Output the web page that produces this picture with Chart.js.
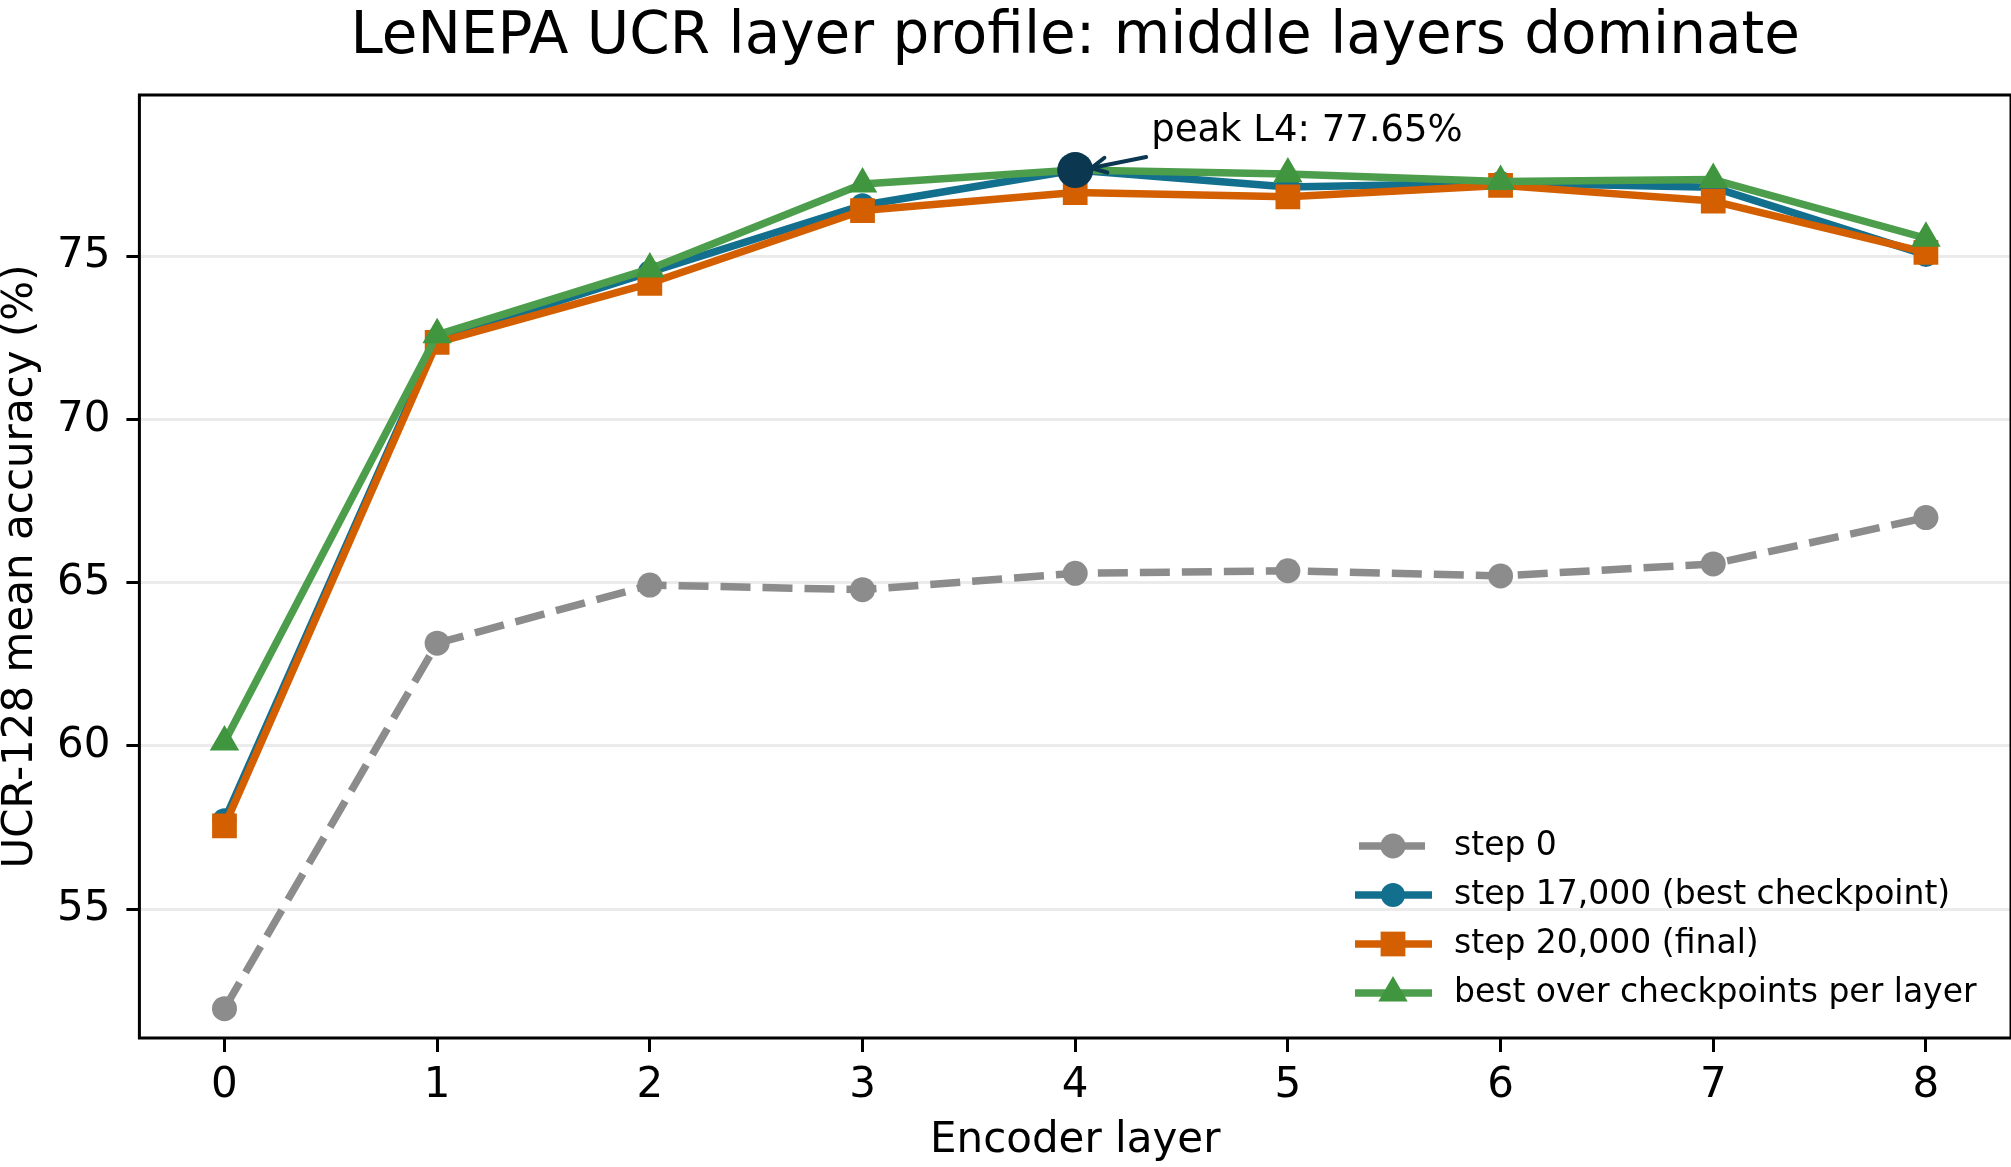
<!DOCTYPE html>
<html>
<head>
<meta charset="utf-8">
<script src="https://cdn.jsdelivr.net/npm/chart.js@4.4.1/dist/chart.umd.min.js"></script>
<style>
  html, body { margin: 0; padding: 0; background: #fff; overflow: hidden; }
  #wrap { width: 2011px; height: 1167px; position: relative; }
</style>
</head>
<body>
<div id="wrap"><canvas id="c"></canvas></div>
<script>
// ---- data ----
const layers = [0, 1, 2, 3, 4, 5, 6, 7, 8];
const step0 = [51.95, 63.15, 64.93, 64.79, 65.29, 65.37, 65.21, 65.58, 67.00];
const step17k = [57.72, 72.45, 74.52, 76.57, 77.65, 77.13, 77.25, 77.12, 75.05];
const step20k = [57.55, 72.37, 74.18, 76.41, 76.96, 76.83, 77.18, 76.70, 75.13];
const bestPerLayer = [60.12, 72.60, 74.62, 77.22, 77.65, 77.53, 77.30, 77.36, 75.56];
const yTicks = [55, 60, 65, 70, 75];
const xTicks = [0, 1, 2, 3, 4, 5, 6, 7, 8];

const peakIdx = step17k.indexOf(Math.max(...step17k));
const peakLayer = layers[peakIdx];
const peakValue = step17k[peakIdx];
const peakText = 'peak L' + peakLayer + ': ' + peakValue.toFixed(2) + '%';

const pts = arr => layers.map((l, i) => ({ x: l, y: arr[i] }));

Chart.defaults.font.family = "'DejaVu Sans', sans-serif";
Chart.defaults.color = '#000';

const FONT = "'DejaVu Sans', sans-serif";

const spinesPlugin = {
  id: 'spines',
  afterDatasetsDraw(chart) {
    const { ctx, chartArea: a } = chart;
    ctx.save();
    ctx.strokeStyle = '#000';
    ctx.lineWidth = 3;
    ctx.strokeRect(a.left, a.top, a.right - a.left, a.bottom - a.top);
    ctx.restore();
  }
};

const annotPlugin = {
  id: 'annot',
  afterDatasetsDraw(chart) {
    const { ctx } = chart;
    const px = chart.scales.x.getPixelForValue(peakLayer);
    const py = chart.scales.y.getPixelForValue(peakValue);
    const tail = { x: px + 71, y: py - 13 };
    const tip = { x: px + 16, y: py - 2 };
    const col = '#0b3850';
    ctx.save();
    ctx.strokeStyle = col;
    ctx.lineWidth = 4;
    ctx.lineCap = 'round';
    ctx.beginPath();
    ctx.moveTo(tail.x, tail.y);
    ctx.lineTo(tip.x, tip.y);
    ctx.stroke();
    const ang = Math.atan2(tail.y - tip.y, tail.x - tip.x);
    const hl = 15, hw = 7.5;
    const bx = tip.x + Math.cos(ang) * hl, by = tip.y + Math.sin(ang) * hl;
    const nx = -Math.sin(ang) * hw, ny = Math.cos(ang) * hw;
    ctx.beginPath();
    ctx.moveTo(bx + nx, by + ny);
    ctx.lineTo(tip.x, tip.y);
    ctx.lineTo(bx - nx, by - ny);
    ctx.stroke();
    ctx.fillStyle = '#000';
    ctx.font = '37px ' + FONT;
    ctx.textAlign = 'left';
    ctx.textBaseline = 'alphabetic';
    ctx.fillText(peakText, px + 76, py - 29);
    ctx.restore();
  }
};

const legendPlugin = {
  id: 'customLegend',
  afterDraw(chart) {
    const { ctx, chartArea: a } = chart;
    const entries = chart.data.datasets.filter(d => d.inLegend);
    const textX = a.right - 557;
    const rowYs = [a.bottom - 192, a.bottom - 143, a.bottom - 94, a.bottom - 45];
    ctx.save();
    entries.forEach((d, i) => {
      const y = rowYs[i];
      ctx.strokeStyle = d.borderColor;
      ctx.lineWidth = d.borderWidth;
      ctx.setLineDash([]);
      ctx.beginPath();
      if (d.borderDash && d.borderDash.length) {
        ctx.moveTo(textX - 95, y);
        ctx.lineTo(textX - 29, y);
      } else {
        ctx.moveTo(textX - 99, y);
        ctx.lineTo(textX - 22, y);
      }
      ctx.stroke();
      ctx.fillStyle = d.pointBackgroundColor;
      Chart.helpers.drawPoint(ctx, {
        pointStyle: d.pointStyle,
        radius: d.pointRadius,
        rotation: 0,
        borderWidth: 0
      }, textX - 61, y);
      ctx.fillStyle = '#000';
      ctx.font = '33px ' + FONT;
      ctx.textAlign = 'left';
      ctx.textBaseline = 'middle';
      ctx.fillText(d.label, textX, y);
    });
    ctx.restore();
  }
};

new Chart(document.getElementById('c'), {
  type: 'line',
  data: {
    datasets: [
      {
        label: 'step 0', inLegend: true,
        data: pts(step0),
        borderColor: '#8c8c8c', backgroundColor: '#8c8c8c', pointBackgroundColor: '#8c8c8c',
        borderWidth: 7.5, borderDash: [30, 12], borderJoinStyle: 'round',
        pointStyle: 'circle', pointRadius: 12.5, pointBorderWidth: 0, pointHoverRadius: 12.5,
        order: 4
      },
      {
        label: 'step 17,000 (best checkpoint)', inLegend: true,
        data: pts(step17k),
        borderColor: '#136f8e', backgroundColor: '#136f8e', pointBackgroundColor: '#136f8e',
        borderWidth: 7.5, borderJoinStyle: 'round',
        pointStyle: 'circle', pointRadius: 12, pointBorderWidth: 0, pointHoverRadius: 12,
        order: 3
      },
      {
        label: 'step 20,000 (final)', inLegend: true,
        data: pts(step20k),
        borderColor: '#d35f00', backgroundColor: '#d35f00', pointBackgroundColor: '#d35f00',
        borderWidth: 7.5, borderJoinStyle: 'round',
        pointStyle: 'rect', pointRadius: 17.5, pointBorderWidth: 0, pointHoverRadius: 17.5,
        order: 2
      },
      {
        label: 'best over checkpoints per layer', inLegend: true,
        data: pts(bestPerLayer),
        borderColor: '#4c9e4c', backgroundColor: '#3f963f', pointBackgroundColor: '#3f963f',
        borderWidth: 7.5, borderJoinStyle: 'round',
        pointStyle: 'triangle', pointRadius: 17, pointBorderWidth: 0, pointHoverRadius: 17,
        order: 1
      },
      {
        label: 'peak', inLegend: false,
        data: [{ x: peakLayer, y: peakValue }],
        showLine: false,
        borderColor: '#0b3850', backgroundColor: '#0b3850', pointBackgroundColor: '#0b3850',
        pointStyle: 'circle', pointRadius: 18, pointBorderWidth: 0, pointHoverRadius: 18,
        order: 0
      }
    ]
  },
  options: {
    responsive: true,
    maintainAspectRatio: false,
    animation: false,
    events: [],
    layout: { padding: 0, autoPadding: false },
    plugins: {
      legend: { display: false },
      tooltip: { enabled: false },
      title: {
        display: true,
        fullSize: false,
        text: 'LeNEPA UCR layer profile: middle layers dominate',
        color: '#000',
        font: { family: FONT, size: 58, weight: 'normal', lineHeight: 0.85 },
        padding: { top: 13, bottom: 32.7 }
      }
    },
    scales: {
      x: {
        type: 'linear',
        min: -0.4, max: 8.4,
        afterFit: s => { s.height = 129; s.paddingLeft = 0; s.paddingRight = 0; },
        afterBuildTicks: s => { s.ticks = xTicks.map(v => ({ value: v })); },
        ticks: {
          stepSize: 1, includeBounds: false, color: '#000',
          font: { family: FONT, size: 42, lineHeight: 1.2 },
          padding: 9, maxRotation: 0, autoSkip: false,
          callback: v => String(v)
        },
        grid: { drawOnChartArea: false, drawTicks: true, tickLength: 14, tickColor: '#000', tickWidth: 3 },
        border: { display: false },
        title: {
          display: true, text: 'Encoder layer', color: '#000',
          font: { family: FONT, size: 42, lineHeight: 1 },
          padding: { top: 0, bottom: 5 }
        }
      },
      y: {
        type: 'linear',
        min: 51.05, max: 79.95,
        afterFit: s => { s.width = 139.4; },
        afterBuildTicks: s => { s.ticks = yTicks.map(v => ({ value: v })); },
        ticks: {
          stepSize: 5, includeBounds: false, color: '#000',
          font: { family: FONT, size: 42, lineHeight: 1.2 },
          padding: 16, autoSkip: false,
          callback: v => String(v)
        },
        grid: { color: '#ebebeb', lineWidth: 3, drawTicks: true, tickLength: 13, tickColor: '#000', tickWidth: 3 },
        border: { display: false },
        title: {
          display: true, text: 'UCR-128 mean accuracy (%)', color: '#000',
          font: { family: FONT, size: 42, lineHeight: 1 },
          padding: { top: 0, bottom: 0 }
        }
      }
    }
  },
  plugins: [spinesPlugin, annotPlugin, legendPlugin]
});
</script>
</body>
</html>
